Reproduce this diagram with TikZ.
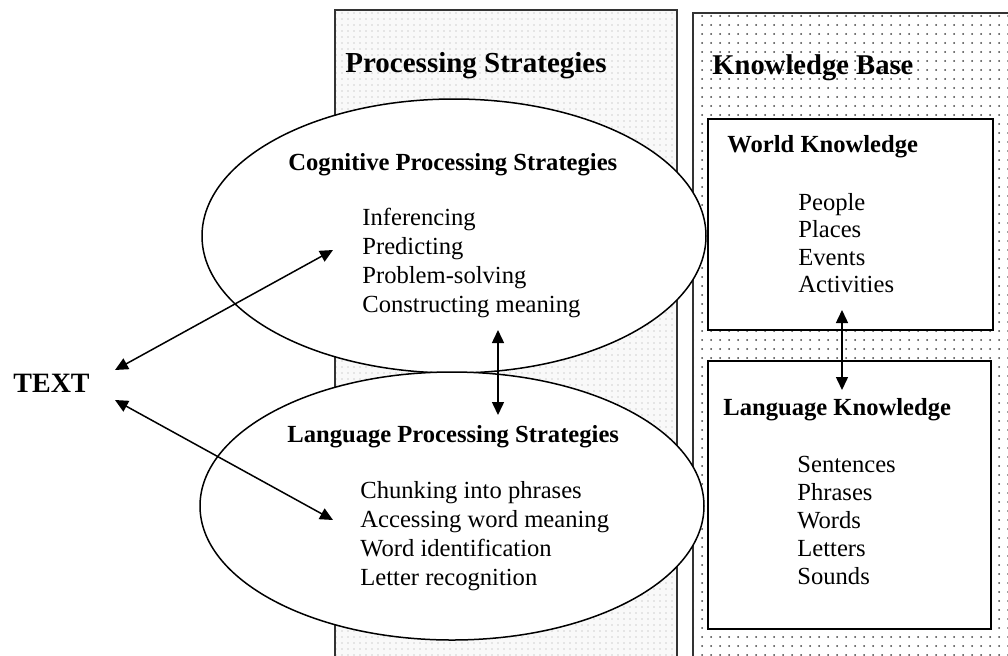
\documentclass[tikz,border=0pt]{standalone}
\usepackage{fontspec}
\setmainfont{Liberation Serif}
\usetikzlibrary{arrows.meta,patterns.meta,shapes.geometric}

\tikzset{
  bighead/.style={anchor=base west, inner sep=0, font=\fontsize{14.5}{17}\selectfont\bfseries},
  subhead/.style={anchor=base west, inner sep=0, font=\fontsize{12.3}{15}\selectfont\bfseries},
  item/.style={anchor=base west, inner sep=0, font=\fontsize{12.3}{15}\selectfont},
  bubble/.style={ellipse, draw, line width=0.75pt, fill=white, inner sep=0, minimum width=252pt},
  kbox/.style={draw, line width=0.9pt, fill=white, anchor=north west, inner sep=0},
  twoway/.style={line width=0.75pt, {Triangle[length=6.5pt,width=6pt]}-{Triangle[length=6.5pt,width=6pt]}},
}

\begin{document}
\begin{tikzpicture}[x=0.5pt, y=-0.5pt]
\useasboundingbox (0,0) rectangle (1008,655);
\begin{scope}
\clip (0,0) rectangle (1008,655);
% the two shaded columns
\fill[gray!5] (335,10) rectangle (677,670);
\fill[pattern={Dots[distance=3pt,radius=0.3pt]}, pattern color=gray!70] (335,10) rectangle (677,670);
\draw[line width=1.2pt, black!80] (335,670) -- (335,10) -- (677,10) -- (677,670);
\fill[pattern={Dots[distance=4.5pt,radius=0.5pt]}, pattern color=black!75] (693,13) rectangle (1020,670);
\draw[line width=1.2pt, black!80] (693,670) -- (693,13) -- (1020,13);
\end{scope}

% strategies
\node[bubble, minimum height=137pt] (cog) at (454,236) {};
\node[bubble, minimum height=134pt] (lang) at (452,506) {};

% knowledge
\node[kbox, minimum width=142.5pt, minimum height=105.5pt] (wk) at (707,118) {};
\node[kbox, minimum width=141.5pt, minimum height=134pt] (lk) at (707,360) {};

\node[bighead] (ps) at (345,72) {Processing Strategies};
\node[bighead, font=\fontsize{14.3}{17}\selectfont\bfseries] (kb) at (712,74) {Knowledge Base};
\node[bighead, font=\fontsize{14}{17}\selectfont\bfseries] (text) at (13,392) {TEXT};

\node[subhead] (cogh) at (288,170) {Cognitive Processing Strategies};
\foreach \t [count=\i from 0] in {Inferencing,Predicting,Problem-solving,Constructing meaning}
  \node[item] (cog\i) at (362,{225+29*\i}) {\t};

\node[subhead] (langh) at (287,442) {Language Processing Strategies};
\foreach \t [count=\i from 0] in {Chunking into phrases,Accessing word meaning,Word identification,Letter recognition}
  \node[item] (lang\i) at (360,{498+29*\i}) {\t};

\node[subhead] (wkh) at (727,152) {World Knowledge};
\foreach \t [count=\i from 0] in {People,Places,Events,Activities}
  \node[item] (wk\i) at (798,{210+27.5*\i}) {\t};

\node[subhead] (lkh) at (723,415) {Language Knowledge};
\foreach \t [count=\i from 0] in {Sentences,Phrases,Words,Letters,Sounds}
  \node[item] (lk\i) at (797,{472+28.2*\i}) {\t};

% arrow ends
\coordinate (txtA) at (115,370);
\coordinate (cogA) at (333,250);
\coordinate (txtB) at (115,400);
\coordinate (langA) at (333,520);
\coordinate (cogB) at (498,330);
\coordinate (langB) at (498,415);
\coordinate (wkA) at (842,310);
\coordinate (lkA) at (842,390);

\draw[twoway] (txtA) -- (cogA);
\draw[twoway] (txtB) -- (langA);
\draw[twoway] (cogB) -- (langB);
\draw[twoway] (wkA) -- (lkA);
\end{tikzpicture}
\end{document}
